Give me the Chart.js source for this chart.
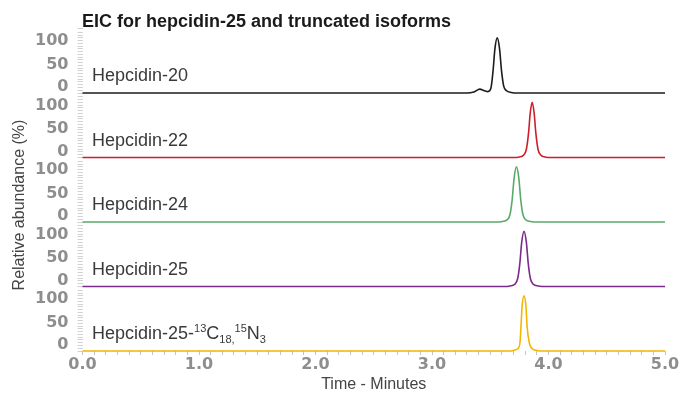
<!DOCTYPE html>
<html>
<head>
<meta charset="utf-8">
<script src="https://cdn.jsdelivr.net/npm/chart.js@4"></script>
<style>
  html, body { margin: 0; padding: 0; background: #fff; }
  #wrap { width: 684px; height: 394px; position: relative; }
</style>
</head>
<body>
<div id="wrap"><canvas id="c"></canvas></div>
<script>
// ---- Data (time in minutes, relative abundance in %) ----
const chartTitle = 'EIC for hepcidin-25 and truncated isoforms';
const xTitle = 'Time - Minutes';
const yTitle = 'Relative abundance (%)';
const xTickLabels = [0, 1, 2, 3, 4, 5];
const yTickLabels = [0, 50, 100];

const seriesNames = ['Hepcidin-20', 'Hepcidin-22', 'Hepcidin-24', 'Hepcidin-25', 'Hepcidin-25-13C18,15N3'];
const seriesColors = ['#1c1c1c', '#cc1f2b', '#5aab6a', '#7b2b8c', '#f3b605'];

const hep20 = [[0,0],[3.30,0],[3.36,2],[3.41,7],[3.45,4],[3.48,2.5],[3.505,8],[3.524,40],[3.54,80],[3.56,100],[3.58,80],[3.596,42],[3.615,13],[3.64,4],[3.68,1],[3.73,0],[5,0]];
const hep22 = [[0,0],[3.70,0],[3.75,1],[3.785,4],[3.81,15],[3.829,45],[3.843,80],[3.86,100],[3.877,80],[3.891,45],[3.91,15],[3.935,4],[3.97,1],[4.02,0],[5,0]];
const hep24 = [[0,0],[3.55,0],[3.605,1],[3.645,4],[3.67,14],[3.689,42],[3.705,80],[3.725,100],[3.745,80],[3.761,42],[3.78,14],[3.805,4],[3.845,1],[3.91,0],[5,0]];
const hep25 = [[0,0],[3.62,0],[3.67,1],[3.71,4],[3.735,14],[3.754,42],[3.77,80],[3.79,100],[3.81,80],[3.826,42],[3.845,14],[3.87,4],[3.91,1],[3.99,0],[5,0]];
const hep25is = [[0,0],[3.66,0],[3.70,1],[3.735,4],[3.755,15],[3.764,45],[3.773,80],[3.79,100],[3.807,80],[3.816,45],[3.835,15],[3.86,4],[3.9,1],[3.95,0],[5,0]];
const allSeries = [hep20, hep22, hep24, hep25, hep25is];

// ---- Build datasets / scales ----
const datasets = allSeries.map((s, i) => ({
  label: seriesNames[i],
  data: s.map(p => ({x: p[0], y: p[1]})),
  borderColor: seriesColors[i],
  borderWidth: 1.6,
  pointRadius: 0,
  fill: false,
  cubicInterpolationMode: 'monotone',
  yAxisID: 'y' + (i + 1),
  clip: false
}));

// label vertical nudge per tick label (multi-line trick): line height per value
const yLabelLine = { 0: 12, 50: 2, 100: 6 };

const scales = {
  x: {
    type: 'linear',
    min: 0, max: 5,
    afterFit: (s) => { s.height = 43; },
    border: { display: false },
    grid: { drawOnChartArea: false, drawTicks: true, tickLength: 4, color: '#c4c4c4' },
    ticks: {
      stepSize: 0.1, autoSkip: false, maxRotation: 0, padding: 0,
      color: '#8e8e8e',
      font: { family: 'DejaVu Sans', size: 16, weight: 'bold' },
      callback: (v) => {
        const r = Math.round(v * 10) / 10;
        return xTickLabels.includes(r) ? r.toFixed(1) : '';
      }
    },
    title: {
      display: true, text: xTitle, color: '#444',
      font: { family: 'Liberation Sans', size: 16 },
      padding: { top: 0, bottom: 0 }
    }
  }
};
for (let i = 0; i < 5; i++) {
  scales['y' + (i + 1)] = {
    type: 'linear',
    position: 'left',
    stack: 'panels',
    stackWeight: 1,
    weight: 5 - i,
    min: 0, max: 117,
    afterFit: (s) => { s.width = 82.5; },
    border: { display: false },
    grid: { drawOnChartArea: false, drawTicks: true, tickLength: 5, color: '#d2d2d2' },
    ticks: {
      stepSize: 5, autoSkip: false, padding: 9,
      color: '#8e8e8e',
      font: (ctx) => {
        const v = ctx.tick ? ctx.tick.value : null;
        return { family: 'DejaVu Sans', size: 16, weight: 'bold', lineHeight: (v in yLabelLine) ? yLabelLine[v] + 'px' : 1.2 };
      },
      callback: (v) => {
        if (!yTickLabels.includes(v)) return '';
        if (v === 100) return ['', String(v)];
        return [String(v), ''];
      }
    }
  };
}

// ---- Text plugin: title, y title, panel labels ----
const textPlugin = {
  id: 'texts',
  afterDraw(chart) {
    const ctx = chart.ctx;
    ctx.save();
    // Title
    ctx.fillStyle = '#1a1a1a';
    ctx.font = 'bold 18px "Liberation Sans"';
    ctx.textAlign = 'left';
    ctx.textBaseline = 'alphabetic';
    ctx.fillText(chartTitle, 82, 27);
    // Y title
    ctx.save();
    ctx.translate(24, 205);
    ctx.rotate(-Math.PI / 2);
    ctx.fillStyle = '#444';
    ctx.font = '16px "Liberation Sans"';
    ctx.textAlign = 'center';
    ctx.textBaseline = 'alphabetic';
    ctx.fillText(yTitle, 0, 0);
    ctx.restore();
    // Panel labels
    ctx.fillStyle = '#3a3a3a';
    ctx.textAlign = 'left';
    ctx.textBaseline = 'alphabetic';
    for (let i = 0; i < 5; i++) {
      const sc = chart.scales['y' + (i + 1)];
      const yb = sc.bottom - 12;
      let x = 92;
      if (i < 4) {
        ctx.font = '18px "Liberation Sans"';
        ctx.fillText(seriesNames[i], x, yb);
      } else {
        const parts = [
          ['Hepcidin-25-', 0], ['13', 1], ['C', 0], ['18,', -1], ['15', 1], ['N', 0], ['3', -1]
        ];
        for (const [t, mode] of parts) {
          if (mode === 0) {
            ctx.font = '18px "Liberation Sans"';
            ctx.fillText(t, x, yb);
          } else {
            ctx.font = '11px "Liberation Sans"';
            ctx.fillText(t, x, mode > 0 ? yb - 7 : yb + 4);
          }
          x += ctx.measureText(t).width;
        }
      }
    }
    ctx.restore();
  }
};

new Chart(document.getElementById('c'), {
  type: 'line',
  data: { datasets },
  options: {
    responsive: true,
    maintainAspectRatio: false,
    animation: false,
    layout: { padding: { top: 28.5, right: 19, bottom: 0, left: 0 } },
    plugins: { legend: { display: false }, title: { display: false }, tooltip: { enabled: false } },
    scales
  },
  plugins: [textPlugin]
});
</script>
</body>
</html>
